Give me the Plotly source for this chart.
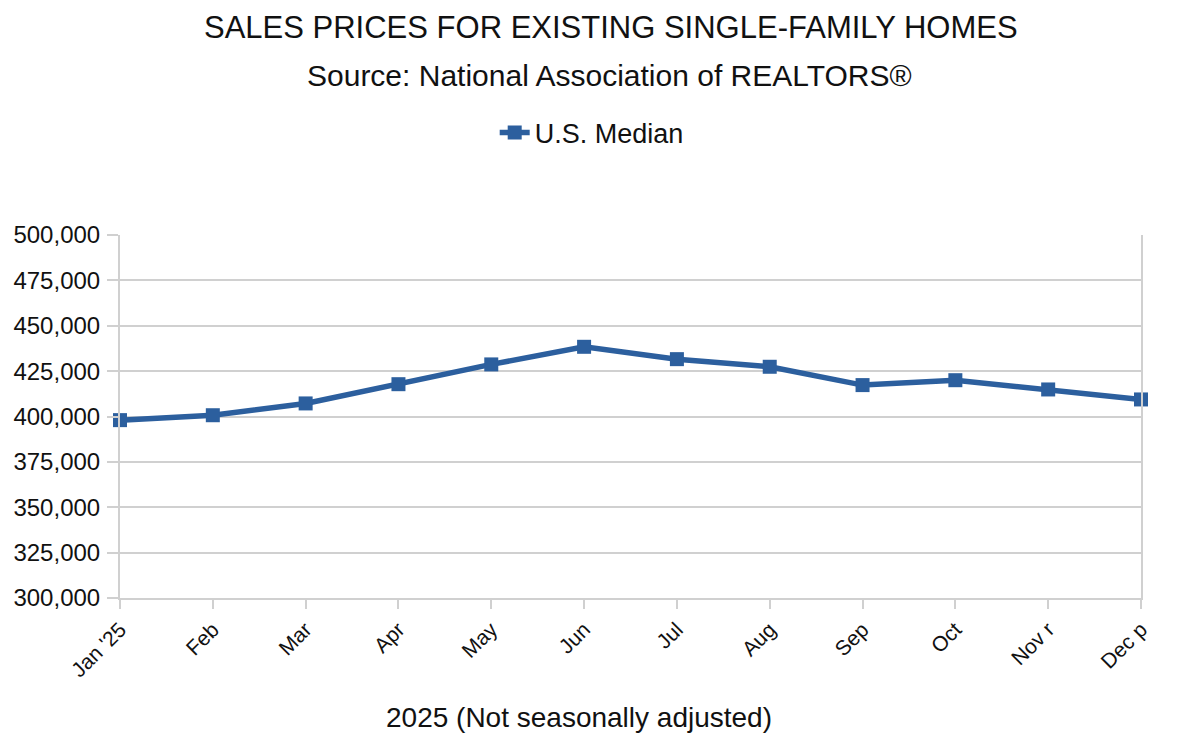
import plotly.graph_objects as go

months = ["Jan '25", "Feb", "Mar", "Apr", "May", "Jun", "Jul", "Aug", "Sep", "Oct", "Nov r", "Dec p"]
us_median = [398000, 400700, 407200, 417800, 428700, 438400, 431600, 427400, 417300, 420000, 414900, 409400]
y_ticks = [300000, 325000, 350000, 375000, 400000, 425000, 450000, 475000, 500000]

LINE = "#2c5f9e"
GRID = "#d0d0d0"
FONT = "Liberation Sans, Arial, sans-serif"

fig = go.Figure()
fig.add_trace(go.Scatter(
    x=months, y=us_median, mode="lines+markers", name="U.S. Median",
    line=dict(color=LINE, width=5.5),
    marker=dict(symbol="square", size=14, color=LINE),
    cliponaxis=False,
))

H = 598 - 235
def py(px):
    return (598 - px) / H

fig.update_layout(
    width=1184, height=734,
    margin=dict(l=112, r=51, t=227, b=144),
    paper_bgcolor="white", plot_bgcolor="white",
    font=dict(family=FONT, color="#111111"),
    showlegend=True,
    legend=dict(orientation="h", x=0.462, xanchor="center", y=py(133), yanchor="middle",
                font=dict(size=27, color="#111111"), bgcolor="rgba(0,0,0,0)"),
    xaxis=dict(
        type="category", range=[0, len(months) - 1],
        showgrid=False, showline=True, linecolor=GRID, linewidth=2,
        ticks="outside", ticklen=9, tickcolor=GRID, tickwidth=2,
        tickangle=-45, tickfont=dict(size=21, color="#111111"),
        mirror=False, zeroline=False, automargin=False,
    ),
    yaxis=dict(
        range=[300000, 500000], tickvals=y_ticks,
        tickformat=",d",
        showgrid=True, gridcolor=GRID, gridwidth=2,
        showline=True, linecolor=GRID, linewidth=2, mirror=True,
        ticks="outside", ticklen=11, tickcolor=GRID, tickwidth=2,
        ticklabelstandoff=2, automargin=False,
        tickfont=dict(size=24, color="#111111"), zeroline=False,
    ),
    annotations=[
        dict(text="SALES PRICES FOR EXISTING SINGLE-FAMILY HOMES", xref="paper", yref="paper",
             x=0.481, y=py(8), xanchor="center", yanchor="top", showarrow=False,
             font=dict(size=31, color="#111111")),
        dict(text="Source: National Association of REALTORS®", xref="paper", yref="paper",
             x=0.479, y=py(76), xanchor="center", yanchor="middle", showarrow=False,
             font=dict(size=30, color="#111111")),
        dict(text="2025 (Not seasonally adjusted)", xref="paper", yref="paper",
             x=0.4496, y=py(717), xanchor="center", yanchor="middle", showarrow=False,
             font=dict(size=28, color="#111111")),
    ],
)

fig.write_html("out.html")
